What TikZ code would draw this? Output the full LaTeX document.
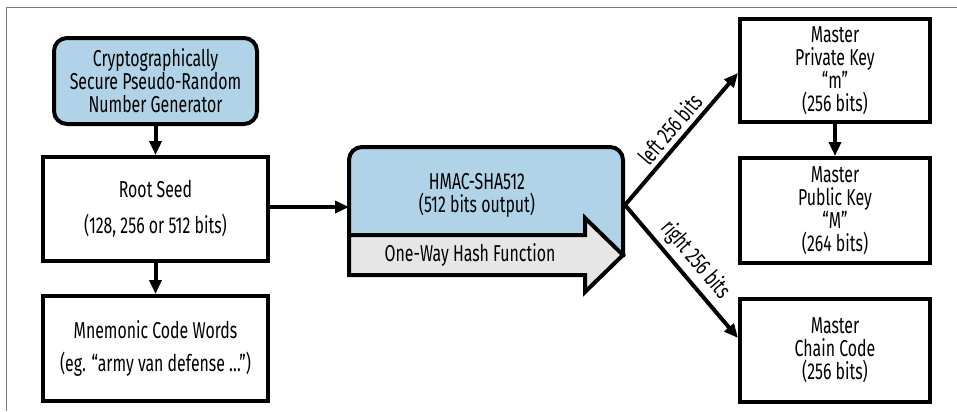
\documentclass[tikz,border=0pt]{standalone}
\usepackage{fontspec}
\setmainfont{Fira Sans}[FakeStretch=0.69]
\usepackage{tikz}
\usetikzlibrary{arrows.meta,positioning}

\definecolor{seedblue}{RGB}{176,211,232}
\definecolor{hashgrey}{RGB}{230,230,230}
\definecolor{framegrey}{RGB}{120,120,120}

\begin{document}
\begin{tikzpicture}[x=0.75pt,y=-0.75pt,->,>={Triangle[length=10.5pt,width=9pt]},
    line width=3pt,font=\fontsize{17.25}{17.25}\selectfont,
    key box/.style={draw,align=center,inner sep=0pt,minimum width=142.5pt},
    seed box/.style={draw,align=center,inner sep=0pt,minimum width=168.75pt},
    rng box/.style={draw,align=center,inner sep=0pt,rounded corners=9.75pt,fill=seedblue}]

  \useasboundingbox (0,0) rectangle (957,411);
  \draw[-,framegrey,line width=0.75pt] (6,411) -- (6,7) -- (957,7);

  % left column
  \node[rng box,minimum width=152.25pt,minimum height=64.5pt] (csprng) at (155.5,81)
    {Cryptographically\\Secure Pseudo-Random\\Number Generator};
  \node[seed box,minimum height=78pt] (seed) [below=21.75pt of csprng]
    {Root Seed\\[9.75pt](128, 256 or 512 bits)};
  \node[seed box,minimum height=78.75pt] (words) [below=23.25pt of seed]
    {Mnemonic Code Words\\[7.5pt](eg. “army van defense …”)};

  % hash function
  \draw[-,fill=seedblue] (349,255) [rounded corners=9.75pt] -- (349,147) -- (623,147)
    [sharp corners] -- (623,255) -- cycle;
  \draw[-,fill=hashgrey,line join=miter] (349,235) -- (585,235) -- (585,218) -- (623,255)
    -- (585,292) -- (585,275) -- (349,275) -- cycle;
  \node[align=center] (hmac) at (477,195) {HMAC-SHA512\\(512 bits output)};
  \node (oneway) at (470,255) {One-Way Hash Function};
  \coordinate (hin) at (349,207);
  \coordinate (hout) at (625,205);

  % right column
  \node[key box,minimum height=77.25pt] (priv) at (835,70.5)
    {Master\\Private Key\\“m”\\(256 bits)};
  \node[key box,minimum height=78.75pt] (pub) [below=24pt of priv]
    {Master\\Public Key\\“M”\\(264 bits)};
  \node[key box,minimum height=77.25pt] (chain) [below=24pt of pub]
    {Master\\Chain Code\\(256 bits)};

  \path (csprng) edge (seed)
        (seed) edge (words)
        (seed.east |- hin) edge (hin)
        (priv) edge (pub)
        (hout) edge node[sloped,above,-] {left 256 bits} (priv.west |- 0,73)
        (hout) edge node[sloped,above,-] {right 256 bits} (chain.west |- 0,338);

\end{tikzpicture}
\end{document}
